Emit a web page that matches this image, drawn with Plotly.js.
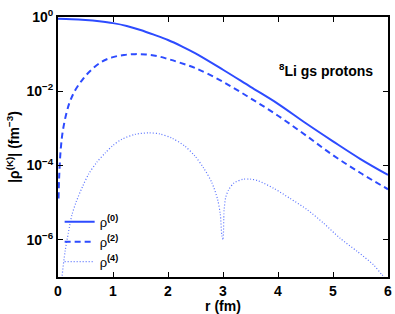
<!DOCTYPE html>
<html>
<head>
<meta charset="utf-8">
<script src="https://cdn.plot.ly/plotly-3.0.1.min.js"></script>
<style>html,body{margin:0;padding:0;background:#fff;}#chart{width:395px;height:314px;}</style>
</head>
<body>
<div id="chart"></div>
<script>
// rho^(0) (solid)
var r0 = [0, 0.25, 0.5, 0.75, 1.0, 1.25, 1.5, 1.75, 2.0, 2.25, 2.5, 3.0, 3.5, 4.0, 4.5, 5.0, 5.5, 6.0];
var rho0 = [0.891, 0.875, 0.832, 0.767, 0.684, 0.575, 0.447, 0.331, 0.240, 0.162, 0.105, 0.038, 0.0132, 0.0046, 0.0014, 4.5e-4, 1.5e-4, 5.6e-5];
// rho^(2) (dashed)
var r2 = [0.01, 0.02, 0.05, 0.1, 0.2, 0.31, 0.45, 0.6, 0.8, 1.0, 1.2, 1.4, 1.6, 1.8, 2.0, 2.2, 2.5, 3.0, 3.5, 4.0, 4.5, 5.0, 5.5, 6.0];
var rho2 = [1.3e-5, 4.5e-5, 2.8e-4, 1.1e-3, 4.5e-3, 0.0105, 0.021, 0.037, 0.063, 0.083, 0.095, 0.1, 0.098, 0.089, 0.074, 0.06, 0.042, 0.018, 0.0065, 0.0022, 6.6e-4, 1.9e-4, 6.3e-5, 2.3e-5];
// rho^(4) (dotted)
var r4 = [0.05, 0.073, 0.13, 0.19, 0.25, 0.33, 0.45, 0.56, 0.7, 0.86, 1.0, 1.16, 1.4, 1.65, 1.85, 2.07, 2.3, 2.49, 2.65, 2.8, 2.9, 2.95, 2.98, 3.0, 3.02, 3.05, 3.1, 3.2, 3.37, 3.5, 3.62, 3.92, 4.22, 4.53, 4.83, 5.13, 5.44, 5.74, 5.89, 6.0];
var rho4 = [2.5e-8, 1.0e-7, 5.0e-7, 1.6e-6, 4.5e-6, 1.05e-5, 2.8e-5, 6.0e-5, 1.2e-4, 2.2e-4, 3.5e-4, 5.1e-4, 6.9e-4, 7.6e-4, 7.1e-4, 5.5e-4, 3.4e-4, 1.8e-4, 8.5e-5, 3.4e-5, 1.26e-5, 5.0e-6, 1.3e-6, 1.0e-6, 6.3e-6, 1.4e-5, 2.2e-5, 3.4e-5, 4.3e-5, 4.3e-5, 4.0e-5, 2.45e-5, 1.3e-5, 6.5e-6, 2.8e-6, 1.1e-6, 4.9e-7, 2.1e-7, 1.15e-7, 8.0e-8];

var names = ['ρ<b><sup>(0)</sup></b>', 'ρ<b><sup>(2)</sup></b>', 'ρ<b><sup>(4)</sup></b>'];
var yTickExp = [0, -2, -4, -6];
var yTickText = ['10<sup>0</sup>', '10<sup>−2</sup>', '10<sup>−4</sup>', '10<sup>−6</sup>'];
var xTicks = [0, 1, 2, 3, 4, 5, 6];

var blue = 'rgb(45,75,255)';
var traces = [
  {x: r0, y: rho0, name: names[0], mode: 'lines', line: {color: blue, width: 2, shape: 'spline', smoothing: 1}},
  {x: r2, y: rho2, name: names[1], mode: 'lines', line: {color: blue, width: 2, dash: '6px,4px', shape: 'spline', smoothing: 1}},
  {x: r4, y: rho4, name: names[2], mode: 'lines', line: {color: 'rgb(90,115,255)', width: 1.2, dash: '1px,2px', shape: 'spline', smoothing: 0.8}}
];

var font = {family: 'Liberation Sans, Arial, sans-serif', color: '#000'};
var layout = {
  width: 395, height: 314,
  margin: {l: 58, r: 7, t: 17, b: 37},
  paper_bgcolor: '#fff', plot_bgcolor: '#fff',
  showlegend: true,
  legend: {x: 0.005, y: 0.27, xanchor: 'left', yanchor: 'top', bgcolor: 'rgba(0,0,0,0)',
           font: {family: font.family, size: 13, color: '#000'}, tracegroupgap: 0, itemwidth: 30},
  xaxis: {
    range: [0, 6], tickvals: xTicks, ticktext: xTicks.map(String),
    showgrid: false, zeroline: false, showline: true, linecolor: '#000', linewidth: 2,
    mirror: 'ticks', ticks: 'inside', ticklen: 5, tickwidth: 1, tickcolor: '#000',
    tickfont: {family: font.family, size: 14, color: '#000', weight: 'bold'},
    title: {text: 'r (fm)', font: {family: font.family, size: 14, color: '#000', weight: 'bold'}, standoff: 0}
  },
  yaxis: {
    type: 'log', range: [-7, 0],
    tickvals: yTickExp.map(function(e){return Math.pow(10, e);}), ticktext: yTickText,
    showgrid: false, zeroline: false, showline: true, linecolor: '#000', linewidth: 2,
    mirror: 'ticks', ticks: 'inside', ticklen: 5, tickwidth: 1, tickcolor: '#000',
    tickfont: {family: font.family, size: 14, color: '#000', weight: 'bold'},
    title: {text: '|ρ<sup>(K)</sup>| (fm<sup>−3</sup>)', font: {family: font.family, size: 14, color: '#000', weight: 'bold'}, standoff: 4}
  },
  annotations: [{
    xref: 'paper', yref: 'paper', x: 0.813, y: 0.796, xanchor: 'center', yanchor: 'middle',
    text: '<sup>8</sup>Li gs protons', showarrow: false,
    font: {family: font.family, size: 14, color: '#000', weight: 'bold'}
  }]
};

Plotly.newPlot('chart', traces, layout, {staticPlot: true, displayModeBar: false});
</script>
</body>
</html>
